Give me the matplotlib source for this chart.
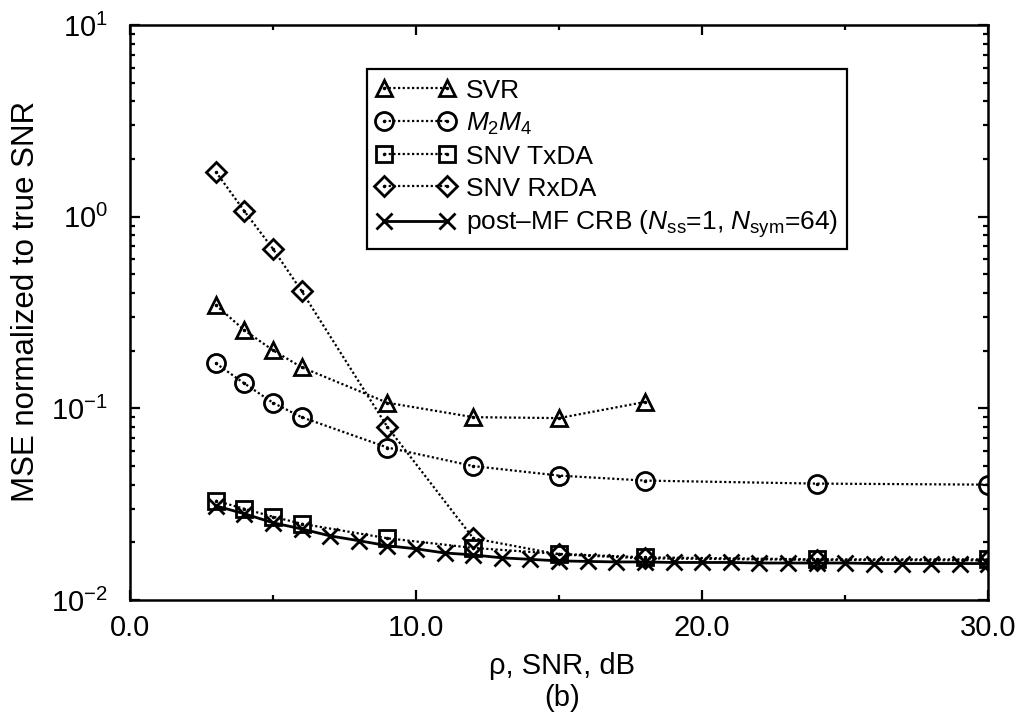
import matplotlib
matplotlib.use('Agg')
from matplotlib import pyplot as plt
from matplotlib.legend_handler import HandlerTuple
from matplotlib.ticker import MultipleLocator, LogLocator, NullFormatter, FormatStrFormatter

plt.rcParams['font.family'] = ['Liberation Sans', 'DejaVu Sans']
plt.rcParams['mathtext.fontset'] = 'custom'
plt.rcParams['mathtext.rm'] = 'Liberation Sans'
plt.rcParams['mathtext.it'] = 'Liberation Sans:italic'
plt.rcParams['mathtext.default'] = 'regular'

# SNR points (dB) for the estimators
snr_est = [3, 4, 5, 6, 9, 12, 15, 18, 24, 30]
snr_svr = [3, 4, 5, 6, 9, 12, 15, 18]
# CRB evaluated at every integer SNR
snr_crb = list(range(3, 31))

mse_svr = [0.346, 0.256, 0.201, 0.164, 0.107, 0.090, 0.089, 0.108]
mse_m2m4 = [0.172, 0.135, 0.107, 0.090, 0.0625, 0.050, 0.0446, 0.042, 0.0405, 0.040]
mse_txda = [0.033, 0.0299, 0.0272, 0.0250, 0.021, 0.0187, 0.0174, 0.0167, 0.0163, 0.0163]
mse_rxda = [1.72, 1.07, 0.68, 0.41, 0.080, 0.021, 0.0173, 0.0165, 0.0162, 0.0161]
mse_crb = [0.0310, 0.0282, 0.0253, 0.0235, 0.0216, 0.0204, 0.0192, 0.0185, 0.0176,
           0.0172, 0.0166, 0.0163, 0.0160, 0.0159, 0.0158, 0.0158, 0.0157, 0.0157,
           0.0157, 0.0156, 0.0156, 0.0156, 0.0156, 0.0155, 0.0155, 0.0155, 0.0155,
           0.0155]

labels = ['SVR', r'$\mathit{M}_2\mathit{M}_4$', 'SNV TxDA', 'SNV RxDA',
          r'post–MF CRB ($\mathit{N}_{ss}$=1, $\mathit{N}_{sym}$=64)']

fig = plt.figure(figsize=(10.23, 7.19), dpi=100)
ax = fig.add_axes([0.127, 0.1655, 0.839, 0.7995])

series = [
    (snr_svr, mse_svr, '^', 12),
    (snr_est, mse_m2m4, 'o', 13),
    (snr_est, mse_txda, 's', 11),
    (snr_est, mse_rxda, 'D', 10),
]

handles = []
for x, y, m, ms in series:
    line, = ax.plot(x, y, linestyle=(0, (1, 1.1)), color='black', lw=1.6,
                    marker=m, ms=ms, mfc='none', mec='black', mew=2)
    dots, = ax.plot(x, y, linestyle='none', marker='.', ms=3, color='black')
    handles.append((line, dots))

crb, = ax.plot(snr_crb, mse_crb, '-', color='black', lw=2,
               marker='x', ms=11, mew=2)
handles.append(crb)

ax.set_yscale('log')
ax.set_xlim(0, 30)
ax.set_ylim(1e-2, 1e1)

ax.xaxis.set_major_locator(MultipleLocator(10))
ax.xaxis.set_minor_locator(MultipleLocator(5))
ax.xaxis.set_major_formatter(FormatStrFormatter('%.1f'))
ax.yaxis.set_major_locator(LogLocator(base=10))
ax.yaxis.set_minor_locator(LogLocator(base=10, subs=range(2, 10)))
ax.yaxis.set_minor_formatter(NullFormatter())

ax.tick_params(which='both', direction='in', top=True, right=True, width=1.6)
ax.tick_params(which='major', length=7)
ax.tick_params(which='minor', length=3.5)
ax.tick_params(axis='x', labelsize=21, pad=10)
ax.tick_params(axis='y', labelsize=21, pad=16)
for s in ax.spines.values():
    s.set_linewidth(1.8)

ax.set_ylabel('MSE normalized to true SNR', fontsize=22.5)
ax.yaxis.set_label_coords(-0.104, 0.52)
ax.set_xlabel('ρ, SNR, dB\n(b)', fontsize=21, linespacing=1.2, va='top')
ax.xaxis.set_label_coords(0.503, -0.09)

leg = ax.legend(handles, labels, loc='upper left', bbox_to_anchor=(0.276, 0.923),
                borderaxespad=0, fontsize=19, numpoints=2, handlelength=3.0,
                handletextpad=0.4, labelspacing=0.3, borderpad=0.35,
                fancybox=False, framealpha=1, edgecolor='black',
                handler_map={tuple: HandlerTuple(ndivide=1)})
leg.get_frame().set_linewidth(1.6)

fig.savefig('out.png', dpi=100, facecolor='white')
